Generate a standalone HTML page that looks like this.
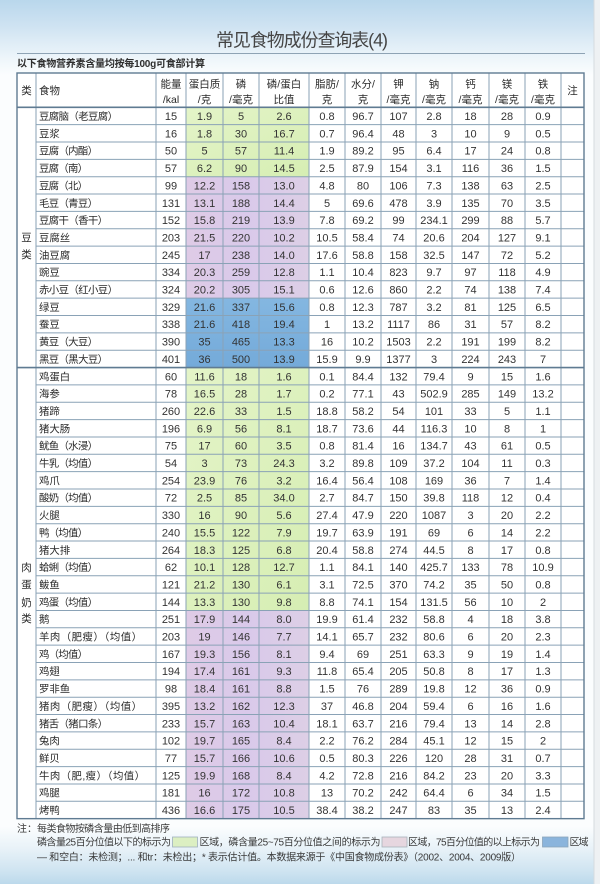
<!DOCTYPE html>
<html><head><meta charset="utf-8">
<style>
html,body{margin:0;padding:0;background:#fff;}
svg{display:block;}
text{font-family:"Liberation Sans","Noto Sans CJK SC",sans-serif;fill:#333;font-size:11px;}
.r text{text-anchor:middle;}
.r text.n{text-anchor:start;font-size:10.4px;fill:#2a2a2a;}
.h text{text-anchor:middle;font-size:10.5px;fill:#2a2a2a;}
.f text{font-size:10px;fill:#3a3a3a;}
</style></head>
<body>
<svg width="600" height="884" viewBox="0 0 600 884" xmlns="http://www.w3.org/2000/svg">
<defs>
<linearGradient id="bg" x1="0" y1="0" x2="0" y2="1">
<stop offset="0" stop-color="#b9d7ec"/>
<stop offset="0.03" stop-color="#cfe3f2"/>
<stop offset="0.065" stop-color="#edf5fa"/>
<stop offset="0.085" stop-color="#fbfdfe"/>
<stop offset="0.935" stop-color="#fbfdfe"/>
<stop offset="0.96" stop-color="#e8f2f8"/>
<stop offset="0.985" stop-color="#cfe4f1"/>
<stop offset="1" stop-color="#bcd9eb"/>
</linearGradient>
<linearGradient id="gr" x1="0" y1="0" x2="1" y2="1">
<stop offset="0" stop-color="#e4f4c8"/>
<stop offset="1" stop-color="#d6eeb3"/>
</linearGradient>
<linearGradient id="pu" x1="0" y1="0" x2="1" y2="0">
<stop offset="0" stop-color="#dfcbe6"/>
<stop offset="0.5" stop-color="#d9c9ea"/>
<stop offset="1" stop-color="#ddcfe6"/>
</linearGradient>
<linearGradient id="bl" x1="0" y1="0" x2="0" y2="1">
<stop offset="0" stop-color="#84b7e1"/>
<stop offset="1" stop-color="#74aad9"/>
</linearGradient>
</defs>
<rect x="0" y="0" width="600" height="884" fill="url(#bg)"/>
<rect x="594" y="0" width="6" height="884" fill="#eef1f3"/>
<line x1="594" y1="0" x2="594" y2="884" stroke="#d5dbdf" stroke-width="1"/>

<text x="302" y="46.5" text-anchor="middle" textLength="172" style="font-size:18px;fill:#454545">常见食物成份查询表(4)</text>
<line x1="17" y1="53.5" x2="585" y2="53.5" stroke="#8ea3b4" stroke-width="1"/>
<text x="17" y="67" textLength="188" style="font-size:10px;fill:#2e2e2e;font-weight:bold">以下食物营养素含量均按每100g可食部计算</text>

<rect x="17" y="73" width="567" height="745.65" fill="#ffffff"/>

<rect x="186" y="107.3" width="123" height="69.4" fill="url(#gr)"/>
<rect x="186" y="176.7" width="123" height="121.45" fill="url(#pu)"/>
<rect x="186" y="298.15" width="123" height="69.4" fill="url(#bl)"/>
<rect x="186" y="367.55" width="123" height="242.9" fill="url(#gr)"/>
<rect x="186" y="610.45" width="123" height="208.2" fill="url(#pu)"/>

<path fill="none" stroke="#8aa2b6" stroke-width="1" d="M36 124.65H584M36 142H584M36 159.35H584M36 176.7H584M36 194.05H584M36 211.4H584M36 228.75H584M36 246.1H584M36 263.45H584M36 280.8H584M36 298.15H584M36 315.5H584M36 332.85H584M36 350.2H584M36 384.9H584M36 402.25H584M36 419.6H584M36 436.95H584M36 454.3H584M36 471.65H584M36 489H584M36 506.35H584M36 523.7H584M36 541.05H584M36 558.4H584M36 575.75H584M36 593.1H584M36 610.45H584M36 627.8H584M36 645.15H584M36 662.5H584M36 679.85H584M36 697.2H584M36 714.55H584M36 731.9H584M36 749.25H584M36 766.6H584M36 783.95H584M36 801.3H584"/>
<path fill="none" stroke="#8aa2b6" stroke-width="1" d="M36 73V818.65M156 73V818.65M186 73V818.65M223 73V818.65M259 73V818.65M309 73V818.65M345 73V818.65M381 73V818.65M416 73V818.65M452 73V818.65M489 73V818.65M525 73V818.65M561 73V818.65"/>
<path fill="none" stroke="#5f7b92" stroke-width="1.6" d="M17 107.3H584M17 367.55H584"/>
<rect x="17" y="73" width="567" height="745.65" fill="none" stroke="#5f7b92" stroke-width="1.4"/>

<g class="h">
<text x="26.5" y="94">类</text>
<text x="39" y="94" style="text-anchor:start">食物</text>
<text x="572.5" y="94">注</text>
<text x="171" y="87.3">能量</text><text x="171" y="103">/kal</text>
<text x="204.5" y="87.3">蛋白质</text><text x="204.5" y="103">/克</text>
<text x="241" y="87.3">磷</text><text x="241" y="103">/毫克</text>
<text x="284" y="87.3">磷/蛋白</text><text x="284" y="103">比值</text>
<text x="327" y="87.3">脂肪/</text><text x="327" y="103">克</text>
<text x="363" y="87.3">水分/</text><text x="363" y="103">克</text>
<text x="398.5" y="87.3">钾</text><text x="398.5" y="103">/毫克</text>
<text x="434" y="87.3">钠</text><text x="434" y="103">/毫克</text>
<text x="470.5" y="87.3">钙</text><text x="470.5" y="103">/毫克</text>
<text x="507" y="87.3">镁</text><text x="507" y="103">/毫克</text>
<text x="543" y="87.3">铁</text><text x="543" y="103">/毫克</text>
</g>

<g class="h">
<text x="26.5" y="241">豆</text><text x="26.5" y="258">类</text>
<text x="26.5" y="571">肉</text><text x="26.5" y="588">蛋</text><text x="26.5" y="606">奶</text><text x="26.5" y="622">类</text>
</g>

<g class="r">
<g transform="translate(0,120)"><text x="39" class="n" textLength="79">豆腐脑（老豆腐）</text><text x="171">15</text><text x="204.5">1.9</text><text x="241">5</text><text x="284">2.6</text><text x="327">0.8</text><text x="363">96.7</text><text x="398.5">107</text><text x="434">2.8</text><text x="470.5">18</text><text x="507">28</text><text x="543">0.9</text></g>
<g transform="translate(0,137.35)"><text x="39" class="n">豆浆</text><text x="171">16</text><text x="204.5">1.8</text><text x="241">30</text><text x="284">16.7</text><text x="327">0.7</text><text x="363">96.4</text><text x="398.5">48</text><text x="434">3</text><text x="470.5">10</text><text x="507">9</text><text x="543">0.5</text></g>
<g transform="translate(0,154.7)"><text x="39" class="n" textLength="59">豆腐（内酯）</text><text x="171">50</text><text x="204.5">5</text><text x="241">57</text><text x="284">11.4</text><text x="327">1.9</text><text x="363">89.2</text><text x="398.5">95</text><text x="434">6.4</text><text x="470.5">17</text><text x="507">24</text><text x="543">0.8</text></g>
<g transform="translate(0,172.05)"><text x="39" class="n" textLength="49">豆腐（南）</text><text x="171">57</text><text x="204.5">6.2</text><text x="241">90</text><text x="284">14.5</text><text x="327">2.5</text><text x="363">87.9</text><text x="398.5">154</text><text x="434">3.1</text><text x="470.5">116</text><text x="507">36</text><text x="543">1.5</text></g>
<g transform="translate(0,189.4)"><text x="39" class="n" textLength="49">豆腐（北）</text><text x="171">99</text><text x="204.5">12.2</text><text x="241">158</text><text x="284">13.0</text><text x="327">4.8</text><text x="363">80</text><text x="398.5">106</text><text x="434">7.3</text><text x="470.5">138</text><text x="507">63</text><text x="543">2.5</text></g>
<g transform="translate(0,206.75)"><text x="39" class="n" textLength="59">毛豆（青豆）</text><text x="171">131</text><text x="204.5">13.1</text><text x="241">188</text><text x="284">14.4</text><text x="327">5</text><text x="363">69.6</text><text x="398.5">478</text><text x="434">3.9</text><text x="470.5">135</text><text x="507">70</text><text x="543">3.5</text></g>
<g transform="translate(0,224.1)"><text x="39" class="n" textLength="69">豆腐干（香干）</text><text x="171">152</text><text x="204.5">15.8</text><text x="241">219</text><text x="284">13.9</text><text x="327">7.8</text><text x="363">69.2</text><text x="398.5">99</text><text x="434">234.1</text><text x="470.5">299</text><text x="507">88</text><text x="543">5.7</text></g>
<g transform="translate(0,241.45)"><text x="39" class="n">豆腐丝</text><text x="171">203</text><text x="204.5">21.5</text><text x="241">220</text><text x="284">10.2</text><text x="327">10.5</text><text x="363">58.4</text><text x="398.5">74</text><text x="434">20.6</text><text x="470.5">204</text><text x="507">127</text><text x="543">9.1</text></g>
<g transform="translate(0,258.8)"><text x="39" class="n">油豆腐</text><text x="171">245</text><text x="204.5">17</text><text x="241">238</text><text x="284">14.0</text><text x="327">17.6</text><text x="363">58.8</text><text x="398.5">158</text><text x="434">32.5</text><text x="470.5">147</text><text x="507">72</text><text x="543">5.2</text></g>
<g transform="translate(0,276.15)"><text x="39" class="n">豌豆</text><text x="171">334</text><text x="204.5">20.3</text><text x="241">259</text><text x="284">12.8</text><text x="327">1.1</text><text x="363">10.4</text><text x="398.5">823</text><text x="434">9.7</text><text x="470.5">97</text><text x="507">118</text><text x="543">4.9</text></g>
<g transform="translate(0,293.5)"><text x="39" class="n" textLength="79">赤小豆（红小豆）</text><text x="171">324</text><text x="204.5">20.2</text><text x="241">305</text><text x="284">15.1</text><text x="327">0.6</text><text x="363">12.6</text><text x="398.5">860</text><text x="434">2.2</text><text x="470.5">74</text><text x="507">138</text><text x="543">7.4</text></g>
<g transform="translate(0,310.85)"><text x="39" class="n">绿豆</text><text x="171">329</text><text x="204.5">21.6</text><text x="241">337</text><text x="284">15.6</text><text x="327">0.8</text><text x="363">12.3</text><text x="398.5">787</text><text x="434">3.2</text><text x="470.5">81</text><text x="507">125</text><text x="543">6.5</text></g>
<g transform="translate(0,328.2)"><text x="39" class="n">蚕豆</text><text x="171">338</text><text x="204.5">21.6</text><text x="241">418</text><text x="284">19.4</text><text x="327">1</text><text x="363">13.2</text><text x="398.5">1117</text><text x="434">86</text><text x="470.5">31</text><text x="507">57</text><text x="543">8.2</text></g>
<g transform="translate(0,345.55)"><text x="39" class="n" textLength="59">黄豆（大豆）</text><text x="171">390</text><text x="204.5">35</text><text x="241">465</text><text x="284">13.3</text><text x="327">16</text><text x="363">10.2</text><text x="398.5">1503</text><text x="434">2.2</text><text x="470.5">191</text><text x="507">199</text><text x="543">8.2</text></g>
<g transform="translate(0,362.9)"><text x="39" class="n" textLength="69">黑豆（黑大豆）</text><text x="171">401</text><text x="204.5">36</text><text x="241">500</text><text x="284">13.9</text><text x="327">15.9</text><text x="363">9.9</text><text x="398.5">1377</text><text x="434">3</text><text x="470.5">224</text><text x="507">243</text><text x="543">7</text></g>

<g transform="translate(0,380.25)"><text x="39" class="n">鸡蛋白</text><text x="171">60</text><text x="204.5">11.6</text><text x="241">18</text><text x="284">1.6</text><text x="327">0.1</text><text x="363">84.4</text><text x="398.5">132</text><text x="434">79.4</text><text x="470.5">9</text><text x="507">15</text><text x="543">1.6</text></g>
<g transform="translate(0,397.6)"><text x="39" class="n">海参</text><text x="171">78</text><text x="204.5">16.5</text><text x="241">28</text><text x="284">1.7</text><text x="327">0.2</text><text x="363">77.1</text><text x="398.5">43</text><text x="434">502.9</text><text x="470.5">285</text><text x="507">149</text><text x="543">13.2</text></g>
<g transform="translate(0,414.95)"><text x="39" class="n">猪蹄</text><text x="171">260</text><text x="204.5">22.6</text><text x="241">33</text><text x="284">1.5</text><text x="327">18.8</text><text x="363">58.2</text><text x="398.5">54</text><text x="434">101</text><text x="470.5">33</text><text x="507">5</text><text x="543">1.1</text></g>
<g transform="translate(0,432.3)"><text x="39" class="n">猪大肠</text><text x="171">196</text><text x="204.5">6.9</text><text x="241">56</text><text x="284">8.1</text><text x="327">18.7</text><text x="363">73.6</text><text x="398.5">44</text><text x="434">116.3</text><text x="470.5">10</text><text x="507">8</text><text x="543">1</text></g>
<g transform="translate(0,449.65)"><text x="39" class="n" textLength="59">鱿鱼（水浸）</text><text x="171">75</text><text x="204.5">17</text><text x="241">60</text><text x="284">3.5</text><text x="327">0.8</text><text x="363">81.4</text><text x="398.5">16</text><text x="434">134.7</text><text x="470.5">43</text><text x="507">61</text><text x="543">0.5</text></g>
<g transform="translate(0,467)"><text x="39" class="n" textLength="59">牛乳（均值）</text><text x="171">54</text><text x="204.5">3</text><text x="241">73</text><text x="284">24.3</text><text x="327">3.2</text><text x="363">89.8</text><text x="398.5">109</text><text x="434">37.2</text><text x="470.5">104</text><text x="507">11</text><text x="543">0.3</text></g>
<g transform="translate(0,484.35)"><text x="39" class="n">鸡爪</text><text x="171">254</text><text x="204.5">23.9</text><text x="241">76</text><text x="284">3.2</text><text x="327">16.4</text><text x="363">56.4</text><text x="398.5">108</text><text x="434">169</text><text x="470.5">36</text><text x="507">7</text><text x="543">1.4</text></g>
<g transform="translate(0,501.7)"><text x="39" class="n" textLength="59">酸奶（均值）</text><text x="171">72</text><text x="204.5">2.5</text><text x="241">85</text><text x="284">34.0</text><text x="327">2.7</text><text x="363">84.7</text><text x="398.5">150</text><text x="434">39.8</text><text x="470.5">118</text><text x="507">12</text><text x="543">0.4</text></g>
<g transform="translate(0,519.05)"><text x="39" class="n">火腿</text><text x="171">330</text><text x="204.5">16</text><text x="241">90</text><text x="284">5.6</text><text x="327">27.4</text><text x="363">47.9</text><text x="398.5">220</text><text x="434">1087</text><text x="470.5">3</text><text x="507">20</text><text x="543">2.2</text></g>
<g transform="translate(0,536.4)"><text x="39" class="n" textLength="49">鸭（均值）</text><text x="171">240</text><text x="204.5">15.5</text><text x="241">122</text><text x="284">7.9</text><text x="327">19.7</text><text x="363">63.9</text><text x="398.5">191</text><text x="434">69</text><text x="470.5">6</text><text x="507">14</text><text x="543">2.2</text></g>
<g transform="translate(0,553.75)"><text x="39" class="n">猪大排</text><text x="171">264</text><text x="204.5">18.3</text><text x="241">125</text><text x="284">6.8</text><text x="327">20.4</text><text x="363">58.8</text><text x="398.5">274</text><text x="434">44.5</text><text x="470.5">8</text><text x="507">17</text><text x="543">0.8</text></g>
<g transform="translate(0,571.1)"><text x="39" class="n" textLength="59">蛤蜊（均值）</text><text x="171">62</text><text x="204.5">10.1</text><text x="241">128</text><text x="284">12.7</text><text x="327">1.1</text><text x="363">84.1</text><text x="398.5">140</text><text x="434">425.7</text><text x="470.5">133</text><text x="507">78</text><text x="543">10.9</text></g>
<g transform="translate(0,588.45)"><text x="39" class="n">鲅鱼</text><text x="171">121</text><text x="204.5">21.2</text><text x="241">130</text><text x="284">6.1</text><text x="327">3.1</text><text x="363">72.5</text><text x="398.5">370</text><text x="434">74.2</text><text x="470.5">35</text><text x="507">50</text><text x="543">0.8</text></g>
<g transform="translate(0,605.8)"><text x="39" class="n" textLength="59">鸡蛋（均值）</text><text x="171">144</text><text x="204.5">13.3</text><text x="241">130</text><text x="284">9.8</text><text x="327">8.8</text><text x="363">74.1</text><text x="398.5">154</text><text x="434">131.5</text><text x="470.5">56</text><text x="507">10</text><text x="543">2</text></g>
<g transform="translate(0,623.15)"><text x="39" class="n">鹅</text><text x="171">251</text><text x="204.5">17.9</text><text x="241">144</text><text x="284">8.0</text><text x="327">19.9</text><text x="363">61.4</text><text x="398.5">232</text><text x="434">58.8</text><text x="470.5">4</text><text x="507">18</text><text x="543">3.8</text></g>
<g transform="translate(0,640.5)"><text x="39" class="n" textLength="103">羊肉（肥瘦）（均值）</text><text x="171">203</text><text x="204.5">19</text><text x="241">146</text><text x="284">7.7</text><text x="327">14.1</text><text x="363">65.7</text><text x="398.5">232</text><text x="434">80.6</text><text x="470.5">6</text><text x="507">20</text><text x="543">2.3</text></g>
<g transform="translate(0,657.85)"><text x="39" class="n" textLength="49">鸡（均值）</text><text x="171">167</text><text x="204.5">19.3</text><text x="241">156</text><text x="284">8.1</text><text x="327">9.4</text><text x="363">69</text><text x="398.5">251</text><text x="434">63.3</text><text x="470.5">9</text><text x="507">19</text><text x="543">1.4</text></g>
<g transform="translate(0,675.2)"><text x="39" class="n">鸡翅</text><text x="171">194</text><text x="204.5">17.4</text><text x="241">161</text><text x="284">9.3</text><text x="327">11.8</text><text x="363">65.4</text><text x="398.5">205</text><text x="434">50.8</text><text x="470.5">8</text><text x="507">17</text><text x="543">1.3</text></g>
<g transform="translate(0,692.55)"><text x="39" class="n">罗非鱼</text><text x="171">98</text><text x="204.5">18.4</text><text x="241">161</text><text x="284">8.8</text><text x="327">1.5</text><text x="363">76</text><text x="398.5">289</text><text x="434">19.8</text><text x="470.5">12</text><text x="507">36</text><text x="543">0.9</text></g>
<g transform="translate(0,709.9)"><text x="39" class="n" textLength="103">猪肉（肥瘦）（均值）</text><text x="171">395</text><text x="204.5">13.2</text><text x="241">162</text><text x="284">12.3</text><text x="327">37</text><text x="363">46.8</text><text x="398.5">204</text><text x="434">59.4</text><text x="470.5">6</text><text x="507">16</text><text x="543">1.6</text></g>
<g transform="translate(0,727.25)"><text x="39" class="n" textLength="69">猪舌（猪口条）</text><text x="171">233</text><text x="204.5">15.7</text><text x="241">163</text><text x="284">10.4</text><text x="327">18.1</text><text x="363">63.7</text><text x="398.5">216</text><text x="434">79.4</text><text x="470.5">13</text><text x="507">14</text><text x="543">2.8</text></g>
<g transform="translate(0,744.6)"><text x="39" class="n">兔肉</text><text x="171">102</text><text x="204.5">19.7</text><text x="241">165</text><text x="284">8.4</text><text x="327">2.2</text><text x="363">76.2</text><text x="398.5">284</text><text x="434">45.1</text><text x="470.5">12</text><text x="507">15</text><text x="543">2</text></g>
<g transform="translate(0,761.95)"><text x="39" class="n">鲜贝</text><text x="171">77</text><text x="204.5">15.7</text><text x="241">166</text><text x="284">10.6</text><text x="327">0.5</text><text x="363">80.3</text><text x="398.5">226</text><text x="434">120</text><text x="470.5">28</text><text x="507">31</text><text x="543">0.7</text></g>
<g transform="translate(0,779.3)"><text x="39" class="n" textLength="106">牛肉（肥,瘦）（均值）</text><text x="171">125</text><text x="204.5">19.9</text><text x="241">168</text><text x="284">8.4</text><text x="327">4.2</text><text x="363">72.8</text><text x="398.5">216</text><text x="434">84.2</text><text x="470.5">23</text><text x="507">20</text><text x="543">3.3</text></g>
<g transform="translate(0,796.65)"><text x="39" class="n">鸡腿</text><text x="171">181</text><text x="204.5">16</text><text x="241">172</text><text x="284">10.8</text><text x="327">13</text><text x="363">70.2</text><text x="398.5">242</text><text x="434">64.4</text><text x="470.5">6</text><text x="507">34</text><text x="543">1.5</text></g>
<g transform="translate(0,814)"><text x="39" class="n">烤鸭</text><text x="171">436</text><text x="204.5">16.6</text><text x="241">175</text><text x="284">10.5</text><text x="327">38.4</text><text x="363">38.2</text><text x="398.5">247</text><text x="434">83</text><text x="470.5">35</text><text x="507">13</text><text x="543">2.4</text></g>
</g>

<g class="f">
<text x="17" y="832">注：</text>
<text x="37" y="832" textLength="133">每类食物按磷含量由低到高排序</text>
<text x="37" y="845.5" textLength="134">磷含量25百分位值以下的标示为</text>
<rect x="172.5" y="837" width="25" height="10" fill="#dcefc2" stroke="#9fb0bd" stroke-width="0.8"/>
<text x="199.5" y="845.5" textLength="181">区域，磷含量25~75百分位值之间的标示为</text>
<rect x="382" y="837" width="25" height="10" fill="#e6d6df" stroke="#a8b2bb" stroke-width="0.8"/>
<text x="408" y="845.5" textLength="132">区域，75百分位值的以上标示为</text>
<rect x="542.5" y="837" width="25.5" height="10" fill="#8ab4dc" stroke="#8aa4bb" stroke-width="0.8"/>
<text x="569.5" y="845.5" textLength="19">区域</text>
<text x="37" y="860.5" textLength="484">— 和空白：未检测；... 和tr：未检出；* 表示估计值。本数据来源于《中国食物成份表》（2002、2004、2009版）</text>
</g>
</svg>
</body></html>
